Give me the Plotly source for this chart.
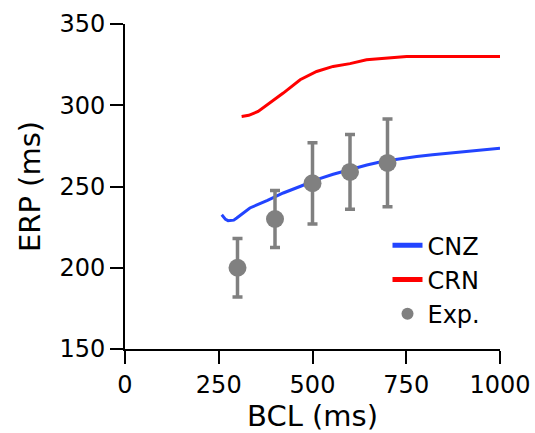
import plotly.graph_objects as go

# CNZ model curve
cnz_bcl = [258, 268, 275, 290, 298, 333, 380, 422, 470, 511, 555, 600, 645, 689, 735, 778, 820, 867, 930, 995, 1000]
cnz_erp = [232.6, 229.8, 229.0, 229.3, 230.6, 236.8, 241.5, 246.0, 250.3, 254.2, 257.5, 260.4, 263.2, 265.5, 267.2, 268.5, 269.6, 270.6, 272.0, 273.3, 273.5]

# CRN model curve
crn_bcl = [311, 330, 355, 390, 422, 467, 511, 555, 600, 644, 689, 751, 800, 900, 1000]
crn_erp = [293.1, 293.8, 296.2, 302.0, 307.5, 315.7, 320.8, 323.9, 325.6, 328.0, 329.0, 330.0, 330.0, 330.0, 330.0]

# Experimental data
exp_bcl = [300, 400, 500, 600, 700]
exp_erp = [200, 230, 252, 259, 264.5]
exp_err = [18, 17.5, 25, 23, 27]

x_ticks = [0, 250, 500, 750, 1000]
y_ticks = [150, 200, 250, 300, 350]

FONT = "DejaVu Sans"

fig = go.Figure()
fig.add_trace(go.Scatter(x=cnz_bcl, y=cnz_erp, mode="lines", name="CNZ",
                         line=dict(color="#2244ff", width=3)))
fig.add_trace(go.Scatter(x=crn_bcl, y=crn_erp, mode="lines", name="CRN",
                         line=dict(color="#ff0000", width=3)))
fig.add_trace(go.Scatter(x=exp_bcl, y=exp_erp, mode="markers", name="Exp.",
                         marker=dict(color="#808080", size=18),
                         error_y=dict(type="data", array=exp_err, visible=True,
                                      color="#808080", thickness=3.5, width=5)))

fig.update_layout(
    width=535, height=433,
    margin=dict(l=125, r=35, t=24, b=84),
    paper_bgcolor="white", plot_bgcolor="white",
    font=dict(family=FONT, size=24, color="black"),
    showlegend=True,
    legend=dict(x=0.70, y=0.387, xanchor="left", yanchor="top",
                bgcolor="rgba(0,0,0,0)", font=dict(size=24, family=FONT),
                itemsizing="constant"),
    xaxis=dict(range=[0, 1000], tickvals=x_ticks, showgrid=False, zeroline=False,
               showline=True, linecolor="black", linewidth=2, automargin=False,
               ticks="outside", ticklen=13, tickwidth=2, tickcolor="black",
               title=dict(text="BCL (ms)", standoff=14),
               tickfont=dict(size=24)),
    yaxis=dict(range=[150, 350], tickvals=y_ticks, showgrid=False, zeroline=False,
               showline=True, linecolor="black", linewidth=2, automargin=False,
               ticks="outside", ticklen=13, tickwidth=2, tickcolor="black",
               title=dict(text="ERP (ms)", standoff=10),
               tickfont=dict(size=24)),
)

fig.write_html("out.html")
